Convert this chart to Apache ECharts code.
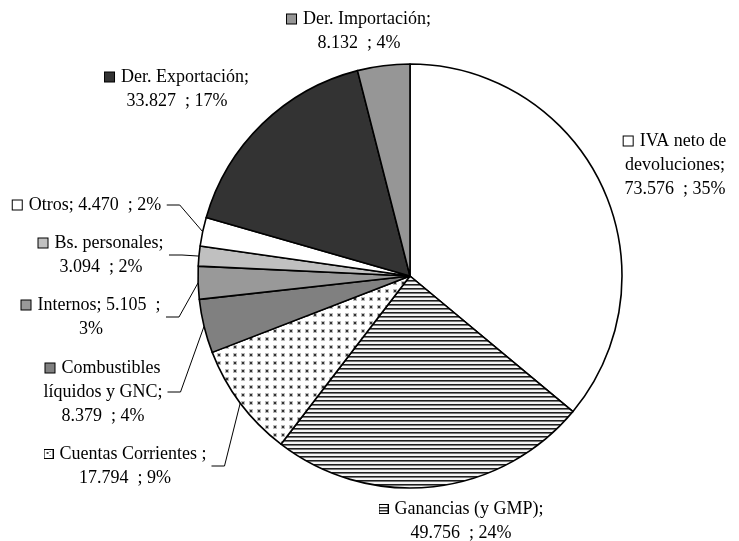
<!DOCTYPE html>
<html>
<head>
<meta charset="utf-8">
<script src="https://cdn.jsdelivr.net/npm/echarts@6/dist/echarts.min.js"></script>
<style>
  html, body { margin: 0; background: #fff; }
  #chart { width: 739px; height: 541px; }
</style>
</head>
<body>
<div id="chart"></div>
<script>
// datos (millones de $), en sentido horario desde las 12
var categories = ['IVA neto de devoluciones', 'Ganancias (y GMP)', 'Cuentas Corrientes ', 'Combustibles líquidos y GNC',
  'Internos', 'Bs. personales', 'Otros', 'Der. Exportación', 'Der. Importación'];
var values = [73576, 49756, 17794, 8379, 5105, 3094, 4470, 33827, 8132];
var percents = [35, 24, 9, 4, 3, 2, 2, 17, 4];

// posicion de cada etiqueta (centro del bloque) y como se corta el texto
var labelPos = [
  { x: 675, y: 165, brk: 3 },
  { x: 461, y: 521 },
  { x: 125, y: 466, line: true },
  { x: 103, y: 392, brk: 1, line: true },
  { x: 91, y: 317, kind: 'split', line: true },
  { x: 101, y: 255, line: true },
  { x: 87, y: 205, kind: 'one', line: true },
  { x: 177, y: 89 },
  { x: 359, y: 31 }
];

function stripes() {
  var c = document.createElement('canvas');
  c.width = 4; c.height = 4;
  var g = c.getContext('2d');
  g.fillStyle = '#f4f4f4'; g.fillRect(0, 0, 4, 4);
  g.fillStyle = '#1e1e1e'; g.fillRect(0, 0, 4, 1);
  g.fillStyle = '#777'; g.fillRect(0, 1, 4, 1);
  return c;
}
function dots() {
  var c = document.createElement('canvas');
  c.width = 8; c.height = 8;
  var g = c.getContext('2d');
  g.fillStyle = '#fff'; g.fillRect(0, 0, 8, 8);
  g.fillStyle = '#bbb'; g.fillRect(1, 1, 4, 4);
  g.fillStyle = '#333'; g.fillRect(2, 2, 2, 2);
  return c;
}
// cuadraditos de la leyenda con trama (con el borde dibujado)
function markCanvas(kind) {
  var c = document.createElement('canvas');
  c.width = 10; c.height = 10;
  var g = c.getContext('2d');
  g.fillStyle = '#000'; g.fillRect(0, 0, 10, 10);
  g.fillStyle = '#fff'; g.fillRect(1, 1, 8, 8);
  if (kind === 'stripes') {
    g.fillStyle = '#333'; g.fillRect(1, 3, 8, 1); g.fillRect(1, 6, 8, 1);
    g.fillStyle = '#999'; g.fillRect(1, 4, 8, 1); g.fillRect(1, 7, 8, 1);
  } else {
    g.fillStyle = '#444'; g.fillRect(3, 3, 2, 2); g.fillRect(6, 6, 1, 1); g.fillRect(6, 2, 1, 1);
  }
  return c;
}
var stripeImg = stripes(), dotImg = dots();
var fills = ['#ffffff', { image: stripeImg, repeat: 'repeat' }, { image: dotImg, repeat: 'repeat' },
  '#808080', '#999999', '#c0c0c0', '#ffffff', '#333333', '#969696'];
var markFills = ['#ffffff', { image: markCanvas('stripes') }, { image: markCanvas('dots') },
  '#808080', '#999999', '#c0c0c0', '#ffffff', '#333333', '#969696'];

function fmt(v) {
  return String(v).replace(/\B(?=(\d{3})+(?!\d))/g, '.');
}

function labelText(i) {
  var L = labelPos[i];
  var name = categories[i];
  if (L.brk) {
    var w = name.split(' ');
    name = w.slice(0, L.brk).join(' ') + '\n' + w.slice(L.brk).join(' ');
  }
  var head = '{m|}{g|}' + name + ';';
  if (L.kind === 'one') return head + ' ' + fmt(values[i]) + '  ; ' + percents[i] + '%';
  if (L.kind === 'split') return head + ' ' + fmt(values[i]) + '  ;\n' + percents[i] + '%';
  return head + '\n' + fmt(values[i]) + '  ; ' + percents[i] + '%';
}

var pieData = categories.map(function (c, i) {
  var patterned = typeof markFills[i] !== 'string';
  return {
    name: c,
    value: values[i],
    itemStyle: { color: fills[i] },
    label: {
      formatter: labelText(i),
      rich: {
        m: patterned
          ? { width: 10, height: 10, backgroundColor: markFills[i] }
          : { width: 9, height: 9, borderColor: '#000', borderWidth: 1, backgroundColor: markFills[i] },
        g: { width: patterned ? 6 : 7 }
      }
    },
    labelLine: { show: !!labelPos[i].line }
  };
});

var myChart = echarts.init(document.getElementById('chart'));
var option = {
  animation: false,
  backgroundColor: '#fff',
  series: [
    {
      type: 'pie',
      center: [410, 276],
      radius: 212,
      startAngle: 90,
      clockwise: true,
      avoidLabelOverlap: false,
      silent: true,
      data: pieData,
      itemStyle: { borderColor: '#000', borderWidth: 1.6 },
      label: {
        show: true,
        position: 'outside',
        fontFamily: 'Liberation Serif',
        fontSize: 18,
        lineHeight: 24,
        color: '#000'
      },
      labelLine: {
        length: 10,
        length2: 10,
        lineStyle: { color: '#000', width: 1 }
      },
      labelLayout: function (p) {
        var L = labelPos[p.dataIndex];
        var out = { x: L.x, y: L.y, align: 'center', verticalAlign: 'middle' };
        if (L.line && p.labelLinePoints) {
          var ex = L.x + p.labelRect.width / 2 + 5;
          out.labelLinePoints = [p.labelLinePoints[0], [ex + 13, L.y], [ex, L.y]];
        }
        return out;
      }
    }
  ]
};
myChart.setOption(option);
</script>
</body>
</html>
